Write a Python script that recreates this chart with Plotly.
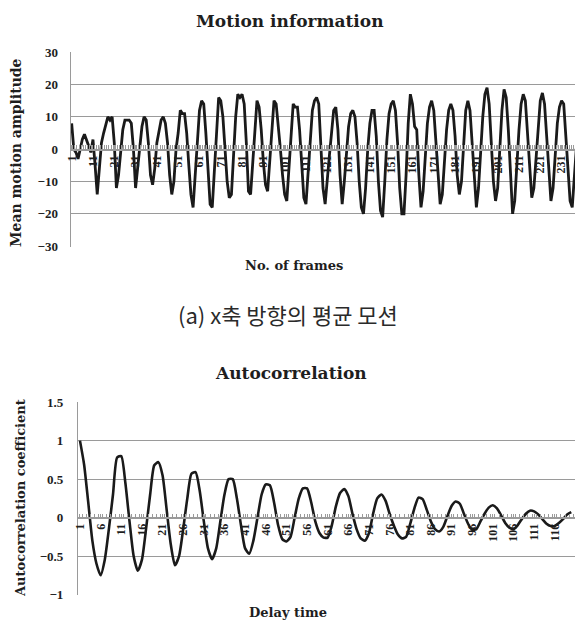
import plotly.graph_objects as go

# ---------------- data ----------------
motion = [
    8, 0, -1, -3, 0, 3, 4.6, 3, 1, -1,
    3, -5, -14, -6, 2, 5, 8, 10, 9, 10,
    2, -12, -8, 0, 6, 9, 9, 9, 8, 0,
    -12, -6, 2, 7, 10, 9, 2, -8, -11, -6,
    2, 6, 9, 10, 8, 2, -8, -14, -10, 0,
    5, 12, 11, 11, 5, -5, -14, -18, -8, 3,
    12, 15, 14, 5, -8, -17, -18, -6, 8, 16,
    15, 10, 0, -10, -15, -14, -2, 10, 17, 16,
    17, 14, 2, -13, -14, -4, 8, 15, 13, 6,
    -4, -11, -13, -4, 8, 15, 14, 8, 0, -8,
    -14, -16, -6, 6, 14, 13, 13, 6, -6, -15,
    -17, -8, 4, 12, 15, 16, 14, 2, -12, -17,
    -8, -2, 5, 12, 13, 6, -8, -17, -10, 0,
    7, 11, 12, 10, 2, -10, -18, -20, -12, 0,
    8, 12, 12, 4, -10, -19, -21, -10, 3, 11,
    14, 15, 12, 2, -12, -20, -20, -8, 8, 17,
    14, 7, 6, -8, -18, -13, -2, 8, 13, 15,
    12, 2, -10, -17, -14, -4, 6, 12, 14, 12,
    4, -8, -14, -10, 2, 12, 15, 12, 2, -10,
    -18, -12, 0, 10, 17, 19, 14, 2, -10, -16,
    -12, 0, 12, 18.5, 16, 6, -8, -20, -16, -4,
    6, 14, 17, 15, 6, -6, -15, -12, -2, 8,
    15, 17.4, 14, 4, -8, -16, -12, -2, 8, 13,
    15, 14, 4, -8, -16, -18, -8, 1,
]
frames = list(range(1, len(motion) + 1))
frame_ticks = list(range(1, 232, 10))

autocorr = [
    1.0, 0.69, 0.2, -0.3, -0.6, -0.75, -0.55, -0.15, 0.3, 0.78,
    0.8, 0.45, -0.05, -0.5, -0.69, -0.55, -0.15, 0.3, 0.68, 0.72,
    0.55, 0.1, -0.35, -0.62, -0.5, -0.15, 0.25, 0.57, 0.59, 0.35,
    -0.05, -0.4, -0.54, -0.4, -0.05, 0.3, 0.5, 0.5, 0.25, -0.1,
    -0.4, -0.47, -0.3, 0.0, 0.3, 0.43, 0.42, 0.2, -0.1, -0.28,
    -0.31, -0.25, 0.0, 0.25, 0.38, 0.38, 0.2, -0.05, -0.2, -0.26,
    -0.26, -0.1, 0.15, 0.32, 0.37, 0.28, 0.05, -0.15, -0.27, -0.3,
    -0.2, 0.05, 0.25, 0.3, 0.22, 0.05, -0.1, -0.22, -0.27, -0.25,
    -0.08, 0.12, 0.26, 0.24, 0.1, -0.05, -0.15, -0.18, -0.12, 0.02,
    0.15, 0.21, 0.18, 0.05, -0.08, -0.16, -0.15, -0.05, 0.05, 0.13,
    0.16, 0.12, 0.03, -0.07, -0.13, -0.15, -0.1, -0.02, 0.05, 0.09,
    0.08, 0.04, -0.02, -0.08, -0.11, -0.11, -0.07, -0.02, 0.04, 0.07,
]
lags = list(range(1, len(autocorr) + 1))
lag_ticks = list(range(1, 117, 5))

motion_yticks = [-30, -20, -10, 0, 10, 20, 30]
ac_yticks = [-1, -0.5, 0, 0.5, 1, 1.5]

# ---------------- figure ----------------
W, H = 575, 621
def py(px):
    return 1 - px / H

SERIF = "Liberation Serif"
TITLE_SERIF = "DejaVu Serif"
TXT = "#1e1e1e"
GRID = "#9a9a9a"

fig = go.Figure()
fig.add_trace(go.Scatter(x=frames, y=motion, mode="lines",
                         line=dict(color="#1a1a1a", width=2.8),
                         xaxis="x", yaxis="y", showlegend=False))
fig.add_trace(go.Scatter(x=lags, y=autocorr, mode="lines",
                         line=dict(color="#1a1a1a", width=2.6, shape="spline", smoothing=0.6),
                         xaxis="x2", yaxis="y2", showlegend=False))

top_y0, top_y1 = py(246.7), py(51.7)
bot_y0, bot_y1 = py(595), py(401.7)

common_x = dict(showgrid=False, zeroline=False, showline=True, linecolor=GRID, linewidth=1.5,
                tickangle=-90, ticks="inside", ticklen=4, tickcolor=GRID, automargin=False,
                tickfont=dict(family=SERIF, size=12, color=TXT, weight="bold"))
common_y = dict(showgrid=True, gridcolor=GRID, gridwidth=1, zeroline=False,
                showline=True, linecolor=GRID, linewidth=1, ticks="", automargin=False,
                tickfont=dict(family=SERIF, size=13, color=TXT, weight="bold"))

fig.update_layout(
    template="none",
    width=W, height=H,
    margin=dict(l=0, r=0, t=0, b=0, autoexpand=False),
    paper_bgcolor="white", plot_bgcolor="white",
    xaxis=dict(domain=[70.6 / W, 1.0], range=[0.5, 237.3], anchor="free",
               position=py(150), tickmode="array", tickvals=frame_ticks,
               ticktext=[str(v) for v in frame_ticks],
               minor=dict(tickmode="linear", tick0=0.5, dtick=1, ticks="inside",
                          ticklen=4, tickcolor=GRID, showgrid=False),
               **common_x),
    yaxis=dict(domain=[top_y0, top_y1], range=[-30.15, 30.15], tickvals=motion_yticks,
               anchor="x", ticklabelstandoff=9, **common_y),
    xaxis2=dict(domain=[77.9 / W, 1.0], range=[0.5, 120.9], anchor="free",
                position=py(518.3), tickmode="array", tickvals=lag_ticks,
                ticktext=[str(v) for v in lag_ticks],
                minor=dict(tickmode="linear", tick0=0.5, dtick=1, ticks="inside",
                           ticklen=4, tickcolor=GRID, showgrid=False),
                **common_x),
    yaxis2=dict(domain=[bot_y0, bot_y1], range=[-1.006, 1.506], tickvals=ac_yticks,
                anchor="x2", ticklabelstandoff=11, **common_y),
)

def ann(text, x, y, size, bold=True, family=TITLE_SERIF, angle=0, color=TXT):
    fig.add_annotation(text=f"<b>{text}</b>" if bold else text,
                       x=x / W, y=py(y), xref="paper", yref="paper",
                       showarrow=False, textangle=angle,
                       xanchor="center", yanchor="middle",
                       font=dict(family=family, size=size, color=color))

ann("Motion information", 290, 21, 17)
ann("No. of frames", 294, 265, 13)
ann("Mean motion amplitude", 16, 153, 14, angle=-90)
ann("(a) x축 방향의 평균 모션", 288, 314, 22, bold=False, family="Noto Sans CJK KR", color="#2a2a2a")
ann("Autocorrelation", 291, 373, 17)
ann("Delay time", 288, 612, 13)
ann("Autocorrelation coefficient", 20, 498, 13, angle=-90)

fig.write_html("out.html", config={"displayModeBar": False},
               post_script="document.body.style.margin='0px';")
